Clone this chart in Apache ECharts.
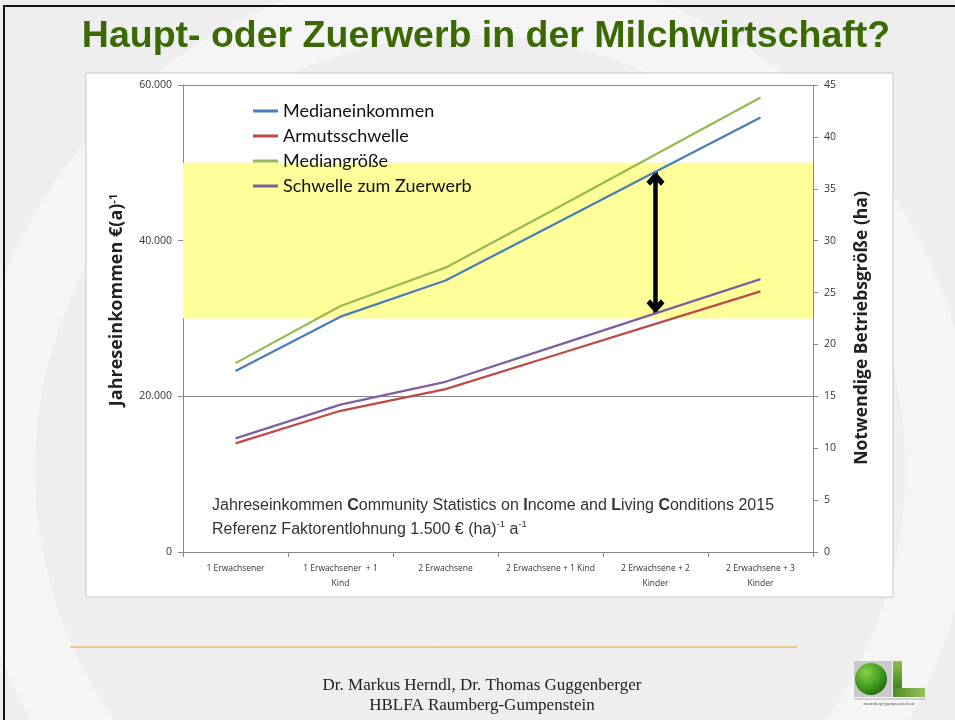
<!DOCTYPE html>
<html><head><meta charset="utf-8">
<script src="https://cdn.jsdelivr.net/npm/echarts@6/dist/echarts.min.js"></script>
<style>html,body{margin:0;padding:0;background:#fff}#c{width:955px;height:720px}</style>
</head><body><div id="c"></div>
<script>
// ---- data ----
const categories = ['1 Erwachsener', '1 Erwachsener  + 1\nKind', '2 Erwachsene', '2 Erwachsene + 1 Kind', '2 Erwachsene + 2\nKinder', '2 Erwachsene + 3\nKinder'];
const medianeinkommen = [23260, 30238, 34890, 41868, 48846, 55824];   // € / a (left axis)
const armutsschwelle  = [13956, 18143, 20934, 25121, 29308, 33494];   // € / a (left axis)
const mediangroesse   = [18.2, 23.7, 27.4, 32.8, 38.3, 43.8];         // ha (right axis)
const schwelleZuerwerb = [10.95, 14.2, 16.4, 19.7, 23.0, 26.3];       // ha (right axis)
const bandRange = [30000, 50000];                                      // highlighted income band
const leftTicks = {min: 0, max: 60000, interval: 20000};
const rightTicks = {min: 0, max: 45, interval: 5};
const arrowIndex = 4;

const fmtThousands = v => v === 0 ? '0' : String(v).replace(/\B(?=(\d{3})+(?!\d))/g, '.');
// open chevron, tip at the centre of its bounding box (invisible extent above the tip)
const chevron = 'path://M0,10 L10,0 L20,10 L16,14 L10,8 L4,14 Z M10,-14 L10.01,-14 L10.01,-13.99 Z';

const chart = echarts.init(document.getElementById('c'), null, {renderer: 'canvas'});
const axisGray = '#868686';
const sans = '"Open Sans", Lato, sans-serif';
const option = {
  animation: false,
  backgroundColor: '#ffffff',
  legend: {
    orient: 'vertical', left: 248, top: 97,
    itemWidth: 25, itemHeight: 3, itemGap: 7, icon: 'rect',
    textStyle: {fontFamily: 'Lato, "Open Sans", sans-serif', fontSize: 18, color: '#111', lineHeight: 18},
    data: ['Medianeinkommen', 'Armutsschwelle', 'Mediangröße', 'Schwelle zum Zuerwerb']
  },
  grid: {left: 183, right: 142, top: 85, bottom: 168, containLabel: false},
  xAxis: {
    type: 'category', data: categories, boundaryGap: true,
    axisLine: {lineStyle: {color: axisGray}},
    axisTick: {show: true, length: 5, lineStyle: {color: axisGray}},
    axisLabel: {fontFamily: sans, fontSize: 8.5, color: '#333', margin: 9, lineHeight: 15, interval: 0}
  },
  yAxis: [{
    type: 'value', min: leftTicks.min, max: leftTicks.max, interval: leftTicks.interval,
    axisLine: {show: true, lineStyle: {color: axisGray}},
    axisTick: {show: true, length: 5, lineStyle: {color: axisGray}},
    splitLine: {show: true, lineStyle: {color: axisGray, width: 1}},
    axisLabel: {formatter: fmtThousands, fontFamily: sans, fontSize: 10.5, color: '#333', margin: 11}
  }, {
    type: 'value', min: rightTicks.min, max: rightTicks.max, interval: rightTicks.interval,
    position: 'right',
    axisLine: {show: true, lineStyle: {color: axisGray}},
    axisTick: {show: true, length: 5, lineStyle: {color: axisGray}},
    splitLine: {show: false},
    axisLabel: {fontFamily: sans, fontSize: 10.5, color: '#333', margin: 11}
  }],
  series: [{
    name: 'Medianeinkommen', type: 'line', yAxisIndex: 0, data: medianeinkommen,
    showSymbol: false, symbol: 'none', lineStyle: {color: '#4A7EBB', width: 2.25}, itemStyle: {color: '#4A7EBB'}, z: 5,
    markArea: {silent: true, itemStyle: {color: '#FFFF99', opacity: 1}, data: [[{yAxis: bandRange[0]}, {yAxis: bandRange[1]}]]}
  }, {
    name: 'Armutsschwelle', type: 'line', yAxisIndex: 0, data: armutsschwelle,
    showSymbol: false, symbol: 'none', lineStyle: {color: '#BE4B48', width: 2.25}, itemStyle: {color: '#BE4B48'}, z: 5
  }, {
    name: 'Mediangröße', type: 'line', yAxisIndex: 1, data: mediangroesse,
    showSymbol: false, symbol: 'none', lineStyle: {color: '#98B954', width: 2.25}, itemStyle: {color: '#98B954'}, z: 5
  }, {
    name: 'Schwelle zum Zuerwerb', type: 'line', yAxisIndex: 1, data: schwelleZuerwerb,
    showSymbol: false, symbol: 'none', lineStyle: {color: '#7D60A0', width: 2.25}, itemStyle: {color: '#7D60A0'}, z: 5,
    markLine: {
      silent: true, symbol: [chevron, chevron], symbolSize: [18, 28], label: {show: false},
      lineStyle: {color: '#000', width: 4.5, type: 'solid', opacity: 1},
      data: [[
        {coord: [categories[arrowIndex], schwelleZuerwerb[arrowIndex]]},
        {coord: [categories[arrowIndex], medianeinkommen[arrowIndex] * rightTicks.max / leftTicks.max]}
      ]]
    }
  }],
  graphic: [
    {type: 'rect', z: -100, shape: {x: 0, y: 0, width: 955, height: 720}, style: {fill: '#EEEEEE'}},
    {type: 'circle', z: -99, shape: {cx: 470, cy: 470, r: 470}, style: {fill: 'none', stroke: '#F5F5F5', lineWidth: 70}},
    {type: 'rect', z: -98, shape: {x: 4, y: 6, width: 960, height: 720}, style: {fill: 'none', stroke: '#111', lineWidth: 2}},
    {type: 'rect', z: -97, shape: {x: 86, y: 73, width: 807, height: 524}, style: {fill: '#fff', stroke: '#C8C8C8', lineWidth: 1}},
    // title
    {type: 'text', z: 50, x: 486, y: 37,
      style: {text: 'Haupt- oder Zuerwerb in der Milchwirtschaft?', align: 'center', verticalAlign: 'middle',
        fontFamily: '"Liberation Sans", Arial', fontWeight: 'bold', fontSize: 37.5, fill: '#3B6A05'}},
    // axis names
    {type: 'text', z: 50, x: 117, y: 300, rotation: Math.PI / 2,
      style: {text: '{t|Jahreseinkommen €(a)}{s|-1}', align: 'center', verticalAlign: 'middle',
        rich: {t: {fontFamily: sans, fontWeight: 'bold', fontSize: 18, fill: '#222', verticalAlign: 'bottom'},
               s: {fontFamily: sans, fontWeight: 'bold', fontSize: 11, fill: '#222', verticalAlign: 'top'}}}},
    {type: 'text', z: 50, x: 862, y: 328, rotation: Math.PI / 2,
      style: {text: 'Notwendige Betriebsgröße (ha)', align: 'center', verticalAlign: 'middle',
        fontFamily: sans, fontWeight: 'bold', fontSize: 17.5, fill: '#222'}},
    // source annotation
    {type: 'text', z: 50, x: 212, y: 498,
      style: {text: '{n|Jahreseinkommen }{b|C}{n|ommunity Statistics on }{b|I}{n|ncome and }{b|L}{n|iving }{b|C}{n|onditions 2015}',
        rich: {n: {fontFamily: '"Liberation Sans", Arial', fontSize: 16, fill: '#333'}, b: {fontFamily: '"Liberation Sans", Arial', fontSize: 16, fontWeight: 'bold', fill: '#333'}}}},
    {type: 'text', z: 50, x: 212, y: 519,
      style: {text: '{n|Referenz Faktorentlohnung 1.500 € (ha)}{s|-1}{n| a}{s|-1}',
        rich: {n: {fontFamily: '"Liberation Sans", Arial', fontSize: 16, fill: '#333', lineHeight: 19, verticalAlign: 'bottom'},
               s: {fontFamily: '"Liberation Sans", Arial', fontSize: 9.5, fill: '#333', verticalAlign: 'top'}}}},
    // footer
    {type: 'line', z: 50, shape: {x1: 70, y1: 647, x2: 797, y2: 647}, style: {stroke: '#E9A23B', lineWidth: 1}},
    {type: 'text', z: 50, x: 482, y: 686, style: {text: 'Dr. Markus Herndl, Dr. Thomas Guggenberger', align: 'center', verticalAlign: 'middle', fontFamily: '"Liberation Serif", "Times New Roman", serif', fontSize: 17, fill: '#222'}},
    {type: 'text', z: 50, x: 482, y: 706, style: {text: 'HBLFA Raumberg-Gumpenstein', align: 'center', verticalAlign: 'middle', fontFamily: '"Liberation Serif", "Times New Roman", serif', fontSize: 17, fill: '#222'}},
    // logo
    {type: 'rect', z: 50, shape: {x: 854, y: 661, width: 38, height: 36}, style: {fill: '#C9C9C9'}},
    {type: 'circle', z: 51, shape: {cx: 871, cy: 679, r: 16}, style: {fill: {type: 'radial', x: 0.35, y: 0.3, r: 0.8, colorStops: [{offset: 0, color: '#8BD14A'}, {offset: 0.6, color: '#3E9A1C'}, {offset: 1, color: '#1F5E0C'}]}}},
    {type: 'rect', z: 51, shape: {x: 893, y: 661, width: 9, height: 36}, style: {fill: {type: 'linear', x: 0, y: 0, x2: 0, y2: 1, colorStops: [{offset: 0, color: '#8CC04A'}, {offset: 1, color: '#2F6E17'}]}}},
    {type: 'rect', z: 51, shape: {x: 893, y: 688, width: 32, height: 9}, style: {fill: {type: 'linear', x: 0, y: 0, x2: 1, y2: 0, colorStops: [{offset: 0, color: '#4B8B25'}, {offset: 1, color: '#9BC05A'}]}}},
    {type: 'line', z: 51, shape: {x1: 854, y1: 699, x2: 925, y2: 699}, style: {stroke: '#999', lineWidth: 0.8}},
    {type: 'text', z: 51, x: 889, y: 704, style: {text: 'raumberg-gumpenstein.at', align: 'center', verticalAlign: 'middle', fontFamily: '"Liberation Serif", serif', fontSize: 5, fill: '#555'}}
  ]
};
chart.setOption(option);
</script></body></html>
